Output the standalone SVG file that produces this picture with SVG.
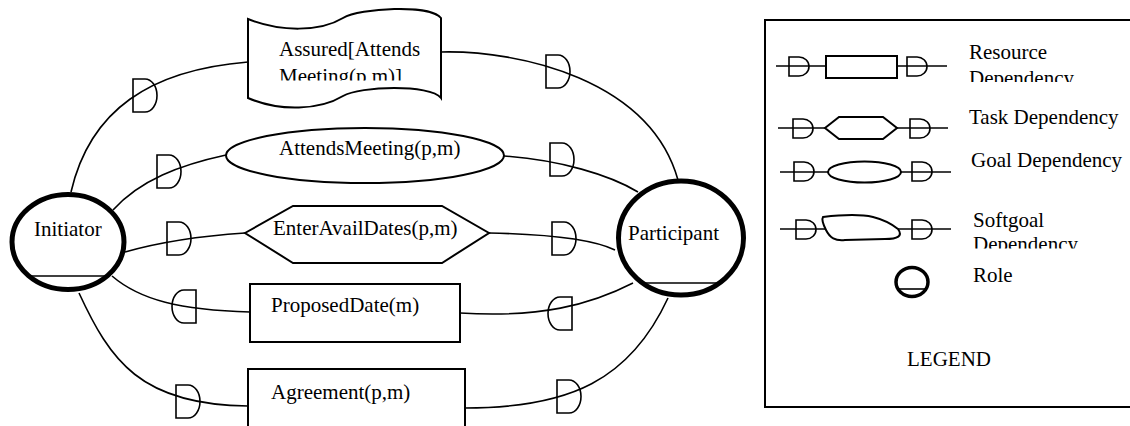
<svg xmlns="http://www.w3.org/2000/svg" xmlns:xlink="http://www.w3.org/1999/xlink" width="1130" height="426" viewBox="0 0 1130 426">
  <style>
    .t { font-family: 'Liberation Serif', 'Times New Roman', serif; font-size: 21px; fill: #000; }
    .conn { fill: none; stroke: #000; stroke-width: 1.6; }
    .dep { fill: none; stroke: #000; stroke-width: 1.6; }
    .node { fill: #fff; stroke: #000; stroke-width: 2; }
    .role { fill: #fff; stroke: #000; stroke-width: 5; }
    .roleline { stroke: #000; stroke-width: 1.6; }
    .lg { fill: #fff; stroke: #000; stroke-width: 2; }
  </style>
  <defs>
    <!-- dependency "D" marks -->
    <path id="dmark" d="M0,0 H12 A12,16.5 0 0 1 12,33 H0 Z"/>
    <path id="dsmall" d="M0,0 H10 A10,9.5 0 0 1 10,19 H0 Z"/>
    <clipPath id="clipSoft"><rect x="240" y="0" width="210" height="80.5"/></clipPath>
    <clipPath id="clipRes"><rect x="960" y="30" width="170" height="52"/></clipPath>
    <clipPath id="clipSg"><rect x="960" y="200" width="170" height="48.5"/></clipPath>
  </defs>
  <rect width="1130" height="426" fill="#fff"/>

  <!-- connectors -->
  <g id="connectors">
    <path class="conn" d="M71,192 C90,110 150,70 248,62"/>
    <use href="#dmark" class="dep" x="133" y="79"/>
    <path class="conn" d="M441,52 C520,50 650,80 678,180"/>
    <use href="#dmark" class="dep" x="546" y="55"/>

    <path class="conn" d="M113,210 C140,180 180,165 226,155"/>
    <use href="#dmark" class="dep" x="157" y="155"/>
    <path class="conn" d="M504,156 C560,160 610,175 638,192"/>
    <use href="#dmark" class="dep" x="550" y="143"/>

    <path class="conn" d="M125,252 C160,242 200,236 245,233"/>
    <use href="#dmark" class="dep" x="167" y="222"/>
    <path class="conn" d="M489,233 C540,234 590,238 615,250"/>
    <use href="#dmark" class="dep" x="552" y="222"/>

    <path class="conn" d="M112,276 C140,300 180,310 250,312"/>
    <use href="#dmark" class="dep" transform="translate(196,290) scale(-1,1)"/>
    <path class="conn" d="M460,313 C540,318 590,305 633,283"/>
    <use href="#dmark" class="dep" transform="translate(572,297) scale(-1,1)"/>

    <path class="conn" d="M79,293 C110,360 140,405 248,406"/>
    <use href="#dmark" class="dep" x="176" y="385"/>
    <path class="conn" d="M465,408 C570,408 630,380 668,298"/>
    <use href="#dmark" class="dep" x="557" y="380"/>
  </g>

  <!-- actors -->
  <g id="initiator">
    <ellipse class="role" cx="68" cy="242" rx="56" ry="47.5"/>
    <line class="roleline" x1="30" y1="276" x2="106" y2="276"/>
    <text class="t" x="34" y="236">Initiator</text>
  </g>
  <g id="participant">
    <ellipse class="role" cx="681" cy="238" rx="62.5" ry="57"/>
    <line class="roleline" x1="643" y1="283" x2="719" y2="283"/>
    <text class="t" x="628" y="240">Participant</text>
  </g>

  <!-- dependums -->
  <g id="softgoal-assured">
    <path class="node" d="M248,19 C280,32 320,32 343,18 C360,8 430,4 441,18 L441,98 C430,84 360,86 343,96 C320,110 280,112 248,98 Z"/>
    <g clip-path="url(#clipSoft)">
      <text class="t" x="279" y="56">Assured[Attends</text>
      <text class="t" x="279" y="83">Meeting(p,m)]</text>
    </g>
  </g>
  <g id="goal-attends">
    <ellipse class="node" cx="365" cy="155.5" rx="139" ry="27.5"/>
    <text class="t" x="279" y="155">AttendsMeeting(p,m)</text>
  </g>
  <g id="task-enter">
    <polygon class="node" points="245,233 293,206 442,206 489,233 442,263 293,263"/>
    <text class="t" x="273" y="235">EnterAvailDates(p,m)</text>
  </g>
  <g id="resource-proposed">
    <rect class="node" x="250" y="284" width="210" height="58"/>
    <text class="t" x="271" y="312">ProposedDate(m)</text>
  </g>
  <g id="resource-agreement">
    <rect class="node" x="248" y="369" width="217" height="70"/>
    <text class="t" x="271" y="399">Agreement(p,m)</text>
  </g>

  <!-- legend -->
  <g id="legend">
    <rect x="765" y="20" width="400" height="387" fill="none" stroke="#000" stroke-width="2"/>

    <line class="conn" x1="776" y1="66" x2="947" y2="66"/>
    <use href="#dsmall" class="dep" x="789" y="57"/>
    <rect class="lg" x="826" y="56" width="71" height="22"/>
    <use href="#dsmall" class="dep" x="907" y="57"/>
    <text class="t" x="969" y="59">Resource</text>
    <g clip-path="url(#clipRes)"><text class="t" x="969" y="85">Dependency</text></g>

    <line class="conn" x1="778" y1="128" x2="948" y2="128"/>
    <use href="#dsmall" class="dep" x="793" y="119"/>
    <polygon class="lg" points="825,128 839,117 883,117 897,128 883,139 839,139"/>
    <use href="#dsmall" class="dep" x="910" y="119"/>
    <text class="t" x="969" y="124">Task Dependency</text>

    <line class="conn" x1="780" y1="172" x2="951" y2="172"/>
    <use href="#dsmall" class="dep" x="794" y="162"/>
    <ellipse class="lg" cx="864.5" cy="172" rx="36.5" ry="10.5"/>
    <use href="#dsmall" class="dep" x="912" y="162"/>
    <text class="t" x="971" y="167">Goal Dependency</text>

    <line class="conn" x1="780" y1="229" x2="951" y2="229"/>
    <use href="#dsmall" class="dep" x="796" y="220"/>
    <path class="lg" d="M823,217 C840,215 860,214 873,217 C885,220 893,225 898,229 C903,236 898,239 885,239 L845,240 C835,241 830,238 826,230 C824,226 821,220 823,217 Z"/>
    <use href="#dsmall" class="dep" x="912" y="220"/>
    <text class="t" x="973" y="227">Softgoal</text>
    <g clip-path="url(#clipSg)"><text class="t" x="973" y="251">Dependency</text></g>

    <ellipse cx="912" cy="282" rx="16" ry="14.5" fill="#fff" stroke="#000" stroke-width="3.5"/>
    <line class="roleline" x1="898" y1="289" x2="926" y2="289"/>
    <text class="t" x="973" y="282">Role</text>

    <text class="t" x="907" y="366">LEGEND</text>
  </g>
</svg>
